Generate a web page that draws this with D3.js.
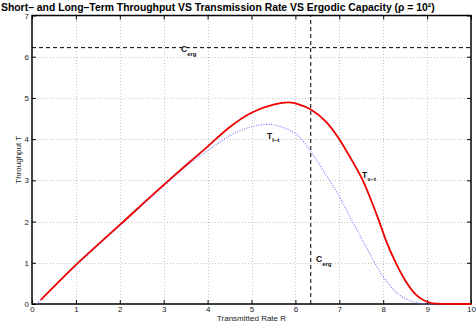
<!DOCTYPE html>
<html>
<head>
<meta charset="utf-8">
<script src="https://cdn.jsdelivr.net/npm/d3@7"></script>
<style>
body { margin: 0; background: #fff; }
svg { display: block; font-family: "Liberation Sans", Arial, sans-serif; }
</style>
</head>
<body>
<svg id="chart" width="476" height="327"></svg>
<script>
// short-term throughput (red, solid)
var shortRate = [0.2, 1, 2, 3, 3.5, 4, 4.5, 5, 5.5, 5.85, 6.09, 6.35, 6.7, 7.0, 7.3, 7.53, 7.72, 7.91, 8.06, 8.29, 8.52, 8.75, 8.98, 9.2, 10];
var shortThr  = [0.1, 0.95, 1.92, 2.89, 3.36, 3.82, 4.29, 4.64, 4.84, 4.89, 4.84, 4.72, 4.42, 4.0, 3.46, 3.01, 2.53, 2.0, 1.55, 0.99, 0.54, 0.22, 0.06, 0.01, 0];
// long-term throughput (blue, dotted)
var longRate = [0.1, 1, 2, 3, 3.5, 4, 4.5, 5, 5.38, 5.75, 6.09, 6.35, 6.7, 7.0, 7.3, 7.61, 8.0, 8.37, 8.67, 8.98, 10];
var longThr  = [0, 0.93, 1.9, 2.86, 3.33, 3.72, 4.08, 4.3, 4.36, 4.27, 4.06, 3.7, 3.13, 2.61, 2.0, 1.39, 0.66, 0.22, 0.06, 0.0, 0];
// ergodic capacity reference lines
var ergThr = 6.22;
var ergRate = 6.35;
var xTicks = [0, 1, 2, 3, 4, 5, 6, 7, 8, 9, 10];
var yTicks = [0, 1, 2, 3, 4, 5, 6, 7];

var svg = d3.select('#chart');
var margin = {top: 15.5, right: 5, bottom: 23, left: 32};
var W = 476 - margin.left - margin.right;
var H = 327 - margin.top - margin.bottom;

var xs = d3.scaleLinear().domain([0, 10]).range([margin.left, margin.left + W]);
var ys = d3.scaleLinear().domain([0, 7]).range([margin.top + H, margin.top]);

// grid
var grid = svg.append('g').attr('stroke', '#c4c4c4').attr('stroke-width', 1).attr('stroke-dasharray', '1,2');
grid.selectAll('line.vx').data(xTicks.slice(1, -1)).enter().append('line')
    .attr('x1', function (d) { return Math.round(xs(d)) + 0.5; })
    .attr('x2', function (d) { return Math.round(xs(d)) + 0.5; })
    .attr('y1', ys(0)).attr('y2', ys(7));
grid.selectAll('line.hy').data(yTicks.slice(1, -1)).enter().append('line')
    .attr('y1', function (d) { return Math.round(ys(d)) + 0.5; })
    .attr('y2', function (d) { return Math.round(ys(d)) + 0.5; })
    .attr('x1', xs(0)).attr('x2', xs(10));

// axes (ticks inward)
var xAxis = svg.append('g').attr('transform', 'translate(0,' + ys(0) + ')')
    .call(d3.axisBottom(xs).tickValues(xTicks).tickSize(-4).tickPadding(3).tickFormat(d3.format('d')));
var xTop = svg.append('g').attr('transform', 'translate(0,' + ys(7) + ')')
    .call(d3.axisTop(xs).tickValues(xTicks).tickSize(-4).tickFormat(''));
var yAxis = svg.append('g').attr('transform', 'translate(' + xs(0) + ',0)')
    .call(d3.axisLeft(ys).tickValues(yTicks).tickSize(-4).tickPadding(3).tickFormat(d3.format('d')));
var yRight = svg.append('g').attr('transform', 'translate(' + xs(10) + ',0)')
    .call(d3.axisRight(ys).tickValues(yTicks).tickSize(-4).tickFormat(''));
[xAxis, xTop, yAxis, yRight].forEach(function (a) {
    a.select('.domain').remove();
    a.selectAll('line').attr('stroke', '#000');
    a.selectAll('text').attr('font-size', 8).attr('fill', '#222').attr('font-family', '"Liberation Sans", Arial, sans-serif');
});
xAxis.selectAll('text').attr('dy', '0.6em');

// box
svg.append('rect')
    .attr('x', xs(0)).attr('y', ys(7))
    .attr('width', xs(10) - xs(0)).attr('height', ys(0) - ys(7))
    .attr('fill', 'none').attr('stroke', '#000').attr('stroke-width', 1.5);

// ergodic capacity dashed lines
svg.append('line')
    .attr('x1', xs(0)).attr('x2', xs(10))
    .attr('y1', ys(ergThr)).attr('y2', ys(ergThr))
    .attr('stroke', '#000').attr('stroke-width', 1).attr('stroke-dasharray', '4,3');
svg.append('line')
    .attr('x1', xs(ergRate)).attr('x2', xs(ergRate))
    .attr('y1', ys(0)).attr('y2', ys(7))
    .attr('stroke', '#000').attr('stroke-width', 1).attr('stroke-dasharray', '4,3');

var line = d3.line()
    .x(function (d) { return xs(d[0]); })
    .y(function (d) { return ys(d[1]); })
    .curve(d3.curveMonotoneX);

svg.append('path')
    .datum(d3.zip(longRate, longThr))
    .attr('d', line)
    .attr('fill', 'none').attr('stroke', '#7b7bff').attr('stroke-width', 1.2)
    .attr('stroke-dasharray', '1,1.5');

svg.append('path')
    .datum(d3.zip(shortRate, shortThr))
    .attr('d', line)
    .attr('fill', 'none').attr('stroke', '#ee0000').attr('stroke-width', 1.8);

// curve / line labels
function subLabel(x, y, main, sub) {
    var t = svg.append('text').attr('x', x).attr('y', y)
        .attr('font-size', 8.5).attr('font-weight', 'bold').attr('fill', '#111');
    t.append('tspan').text(main);
    t.append('tspan').attr('dy', 3.5).attr('font-size', 6).text(sub);
}
subLabel(181, 52, 'C', 'erg');
subLabel(316, 262, 'C', 'erg');
subLabel(267, 138.5, 'T', 'l\u2013t');
subLabel(362, 177.5, 'T', 's\u2013t');

// title and axis labels
svg.append('text')
    .attr('x', 1).attr('y', 11)
    .attr('font-size', 10.4).attr('font-weight', 'bold').attr('fill', '#000')
    .text('Short\u2013 and Long\u2013Term Throughput VS Transmission Rate VS Ergodic Capacity (\u03c1 = 10\u00b2)');

svg.append('text')
    .attr('x', (xs(0) + xs(10)) / 2).attr('y', 321)
    .attr('text-anchor', 'middle').attr('font-size', 8).attr('fill', '#222')
    .text('Transmitted Rate R');

svg.append('text')
    .attr('transform', 'translate(21,' + ((ys(0) + ys(7)) / 2) + ') rotate(-90)')
    .attr('text-anchor', 'middle').attr('font-size', 8).attr('fill', '#222')
    .text('Throughput T');
</script>
</body>
</html>
